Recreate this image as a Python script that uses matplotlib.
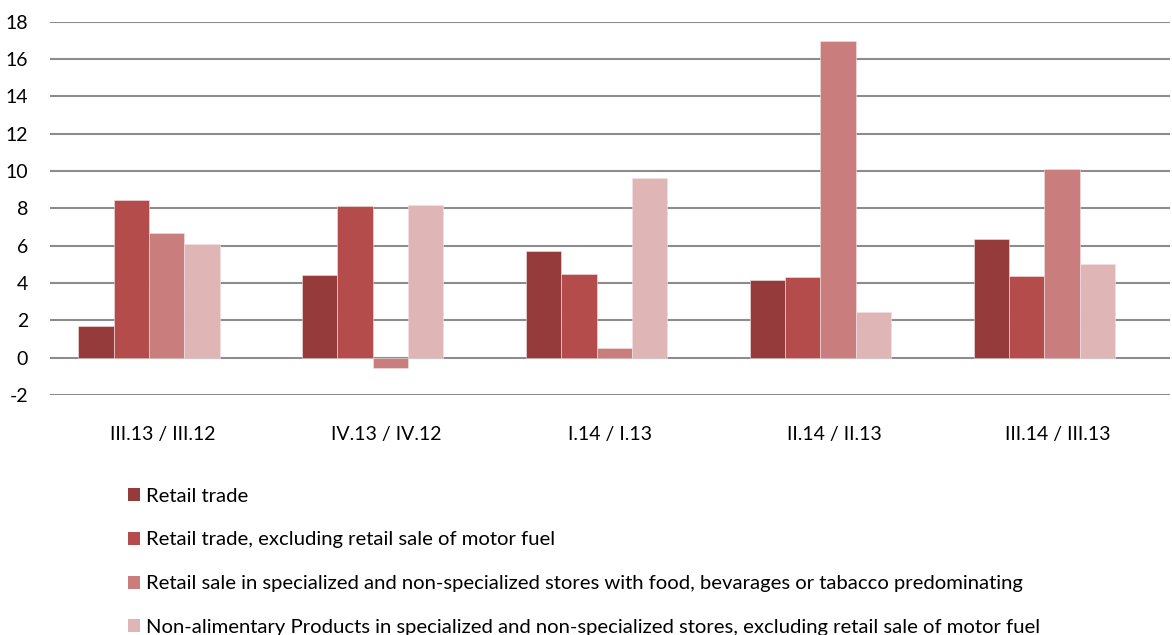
import numpy as np
import matplotlib
matplotlib.use("Agg")
import matplotlib.pyplot as plt
from matplotlib.patches import Patch

plt.rcParams['font.family'] = ['Lato', 'DejaVu Sans']
plt.rcParams['axes.unicode_minus'] = False

# -------------------------------
# Data
# -------------------------------
periods = ["III.13 / III.12", "IV.13 / IV.12", "I.14 / I.13", "II.14 / II.13", "III.14 / III.13"]
series_names = [
    "Retail trade",
    "Retail trade, excluding retail sale of motor fuel",
    "Retail sale in specialized and non-specialized stores with food, bevarages or tabacco predominating",
    "Non-alimentary Products in specialized and non-specialized stores, excluding retail sale of motor fuel",
]
retail_trade = [1.7, 4.4, 5.7, 4.15, 6.35]
retail_excl_fuel = [8.45, 8.1, 4.5, 4.3, 4.35]
food_stores = [6.7, -0.55, 0.5, 16.95, 10.1]
non_alimentary = [6.1, 8.2, 9.6, 2.45, 5.0]
colors = ["#963B3B", "#B34C4A", "#C97D7C", "#DFB5B5"]

# -------------------------------
# Plot
# -------------------------------
fig = plt.figure(figsize=(11.72, 6.35), dpi=100)
ax = fig.add_axes([0.043, 0.378, 0.955, 0.588])

all_series = [retail_trade, retail_excl_fuel, food_stores, non_alimentary]
x = np.arange(len(periods))
w = 0.158
for i, (vals, c) in enumerate(zip(all_series, colors)):
    ax.bar(x + (i - 1.5) * w - 0.06, vals, width=w, color=c,
           edgecolor="#f3e3e3", linewidth=0.4, zorder=3)

ax.set_xlim(-0.5, len(periods) - 0.5)
ax.set_ylim(-2, 18)
ax.set_yticks(np.arange(-2, 19, 2))
ax.set_xticks(x)
ax.set_xticklabels(periods, fontsize=14)
ax.tick_params(axis="y", labelsize=14, length=0, pad=16)
ax.tick_params(axis="x", length=0, pad=22)
ax.grid(axis="y", color="#8c8c8c", linewidth=1.5, zorder=0)
for s in ax.spines.values():
    s.set_visible(False)

handles = [Patch(facecolor=c, edgecolor="none") for c in colors]
fig.legend(handles, series_names, loc="upper left", bbox_to_anchor=(0.109, 0.232),
           frameon=False, fontsize=14.6, handlelength=0.6, handleheight=0.6,
           handletextpad=0.3, labelspacing=1.32, borderaxespad=0, borderpad=0)

fig.savefig("out.png", dpi=100)
